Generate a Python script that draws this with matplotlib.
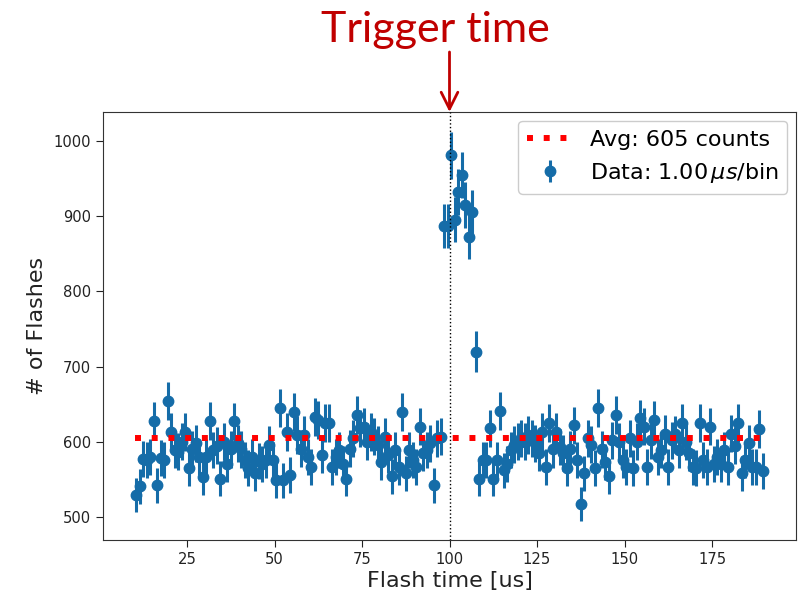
import numpy as np
import matplotlib
matplotlib.use("Agg")
import matplotlib.pyplot as plt

# ---- data ----
bin_start = 10.5          # first bin centre [us]
counts = [
    529, 541, 577, 576, 580, 628, 542, 578, 576, 654,   # 10-19
    613, 589, 587, 600, 613, 565, 590, 598, 580, 553,   # 20-29
    580, 628, 589, 595, 551, 600, 571, 590, 627, 598,   # 30-39
    590, 576, 565, 580, 558, 575, 570, 576, 596, 576,   # 40-49
    549, 645, 549, 613, 556, 640, 609, 591, 609, 580,   # 50-59
    567, 633, 629, 582, 625, 625, 567, 580, 589, 571,   # 60-69
    551, 591, 605, 636, 618, 620, 600, 613, 607, 596,   # 70-79
    573, 607, 582, 554, 589, 567, 639, 558, 589, 576,   # 80-89
    567, 620, 585, 589, 598, 542, 605, 607, 887, 887,   # 90-99
    981, 895, 932, 955, 915, 873, 905, 720, 551, 576,   # 100-109
    576, 618, 551, 576, 641, 562, 571, 589, 596, 600,   # 110-119
    605, 600, 609, 605, 598, 585, 613, 567, 625, 590,   # 120-129
    613, 593, 585, 565, 590, 622, 576, 517, 558, 605,   # 130-139
    596, 565, 645, 590, 573, 554, 602, 636, 600, 576,   # 140-149
    567, 605, 565, 600, 631, 620, 567, 602, 629, 580,   # 150-159
    589, 611, 567, 602, 610, 589, 625, 600, 585, 567,   # 160-169
    565, 625, 576, 567, 620, 571, 580, 571, 589, 567,   # 170-179
    611, 595, 625, 558, 576, 598, 567, 567, 617, 561,   # 180-189
]
avg_counts = 605
avg_range = (10, 190)
trigger_time = 100
x_ticks = [25, 50, 75, 100, 125, 150, 175]
y_ticks = [500, 600, 700, 800, 900, 1000]

x = bin_start + np.arange(len(counts))
y = np.array(counts, dtype=float)
yerr = np.sqrt(y)

# ---- figure ----
fig = plt.figure(figsize=(8.0, 5.96), dpi=100)
ax = fig.add_axes([103/800, 1-540/596, (796-103)/800, (540-112)/596])

blue = "#156ca8"
ax.hlines(avg_counts, avg_range[0], avg_range[1], colors="red",
          linestyles=(0, (1, 1.8)), linewidth=4.3,
          label=f"Avg: {avg_counts} counts", zorder=3)
ax.errorbar(x, y, yerr=yerr, fmt="o", color=blue, ecolor=blue,
            markersize=7.5, elinewidth=2.2, capsize=0,
            label=r"Data: 1.00$\,\mu s$/bin", zorder=2)
ax.axvline(trigger_time, color="black", linestyle=":", linewidth=1.0, zorder=4)

ax.set_xlim(1, 199)
ax.set_ylim(469.4, 1038.6)
ax.set_xticks(x_ticks)
ax.set_yticks(y_ticks)
ax.tick_params(labelsize=10.6, colors="#222222", length=5)
for s in ax.spines.values():
    s.set_color("#333333")

ax.set_xlabel("Flash time [us]", fontsize=16, color="#222222", labelpad=3)
ax.set_ylabel("# of Flashes", fontsize=16, color="#222222", labelpad=5)

leg = ax.legend(loc="upper right", fontsize=16, handlelength=2.0,
                borderpad=0.4, labelspacing=0.5, framealpha=1.0,
                borderaxespad=0.4)

# trigger annotation
fig.text(435.5/800, 1-30/596, "Trigger time", color="#C00000",
         fontsize=31, family="Lato", ha="center", va="center")
ax.annotate("", xy=(trigger_time, 1.0), xycoords=("data", "axes fraction"),
            xytext=(trigger_time, 1-52/596), textcoords=("data", "figure fraction"),
            arrowprops=dict(arrowstyle="->,head_length=1.2,head_width=0.6",
                            color="#C00000", lw=2.0, shrinkA=0, shrinkB=0),
            annotation_clip=False)

fig.savefig("out.png", dpi=100)
